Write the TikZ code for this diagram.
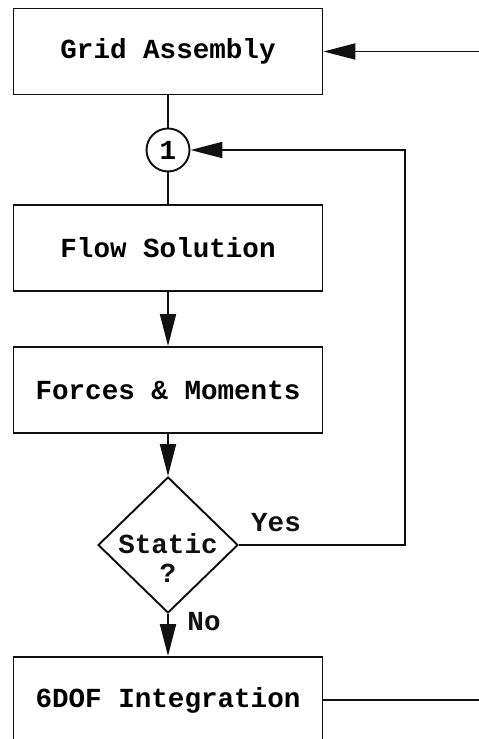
\documentclass[tikz,border=0pt]{standalone}
\usepackage{fontspec}
\usepackage{tikz}
\usetikzlibrary{arrows.meta,shapes.geometric}
\newfontfamily\chartfont{Liberation Mono}
\definecolor{inkblack}{HTML}{111111}
\tikzset{
  chartfont/.style={font=\chartfont\bfseries\fontsize{15.7pt}{16.5pt}\selectfont},
  procbox/.style={draw=inkblack,line width=1.1pt,minimum width=6.18cm,minimum height=1.72cm,inner sep=0pt,chartfont},
  decision/.style={diamond,draw=inkblack,line width=1.1pt,minimum width=2.8cm,minimum height=2.72cm,inner sep=0pt},
  joint/.style={circle,draw=inkblack,line width=1.1pt,minimum size=0.86cm,inner sep=0pt,chartfont},
  flowline/.style={inkblack,line width=1.1pt},
  flowarrow/.style={flowline,-{Triangle[length=0.64cm,width=0.32cm]}},
  tag/.style={inkblack,chartfont,inner sep=0pt,align=center}
}
\begin{document}
\begin{tikzpicture}[x=0.02cm,y=-0.02cm]
  \clip (0,0) rectangle (479,739);
  \node[procbox] (grid) at (168,51.5) {Grid Assembly};
  \node[joint] (one) at (168,150) {1};
  \node[procbox] (flow) at (168,248) {Flow Solution};
  \node[procbox] (forces) at (168,390) {Forces \& Moments};
  \node[decision] (static) at (168,545) {};
  \node[tag] (statictext) at (168,558) {Static\\?};
  \node[procbox] (sixdof) at (168,700) {6DOF Integration};
  \node[tag] (yes) at (276,523) {Yes};
  \node[tag] (no) at (204,622) {No};
  \coordinate (loopright) at (405,150);
  \coordinate (rightin) at (479,51.5);
  \coordinate (rightout) at (479,700);
  \draw[flowline] (grid) -- (one);
  \draw[flowline] (one) -- (flow);
  \draw[flowarrow] (flow) -- (forces);
  \draw[flowarrow] (forces) -- (static);
  \draw[flowarrow] (static) -- (sixdof);
  \draw[flowarrow] (static.east) -| (loopright) -- (one.east);
  \draw[flowline] (sixdof.east) -- (rightout);
  \draw[flowarrow] (rightin) -- (grid.east);
\end{tikzpicture}
\end{document}
